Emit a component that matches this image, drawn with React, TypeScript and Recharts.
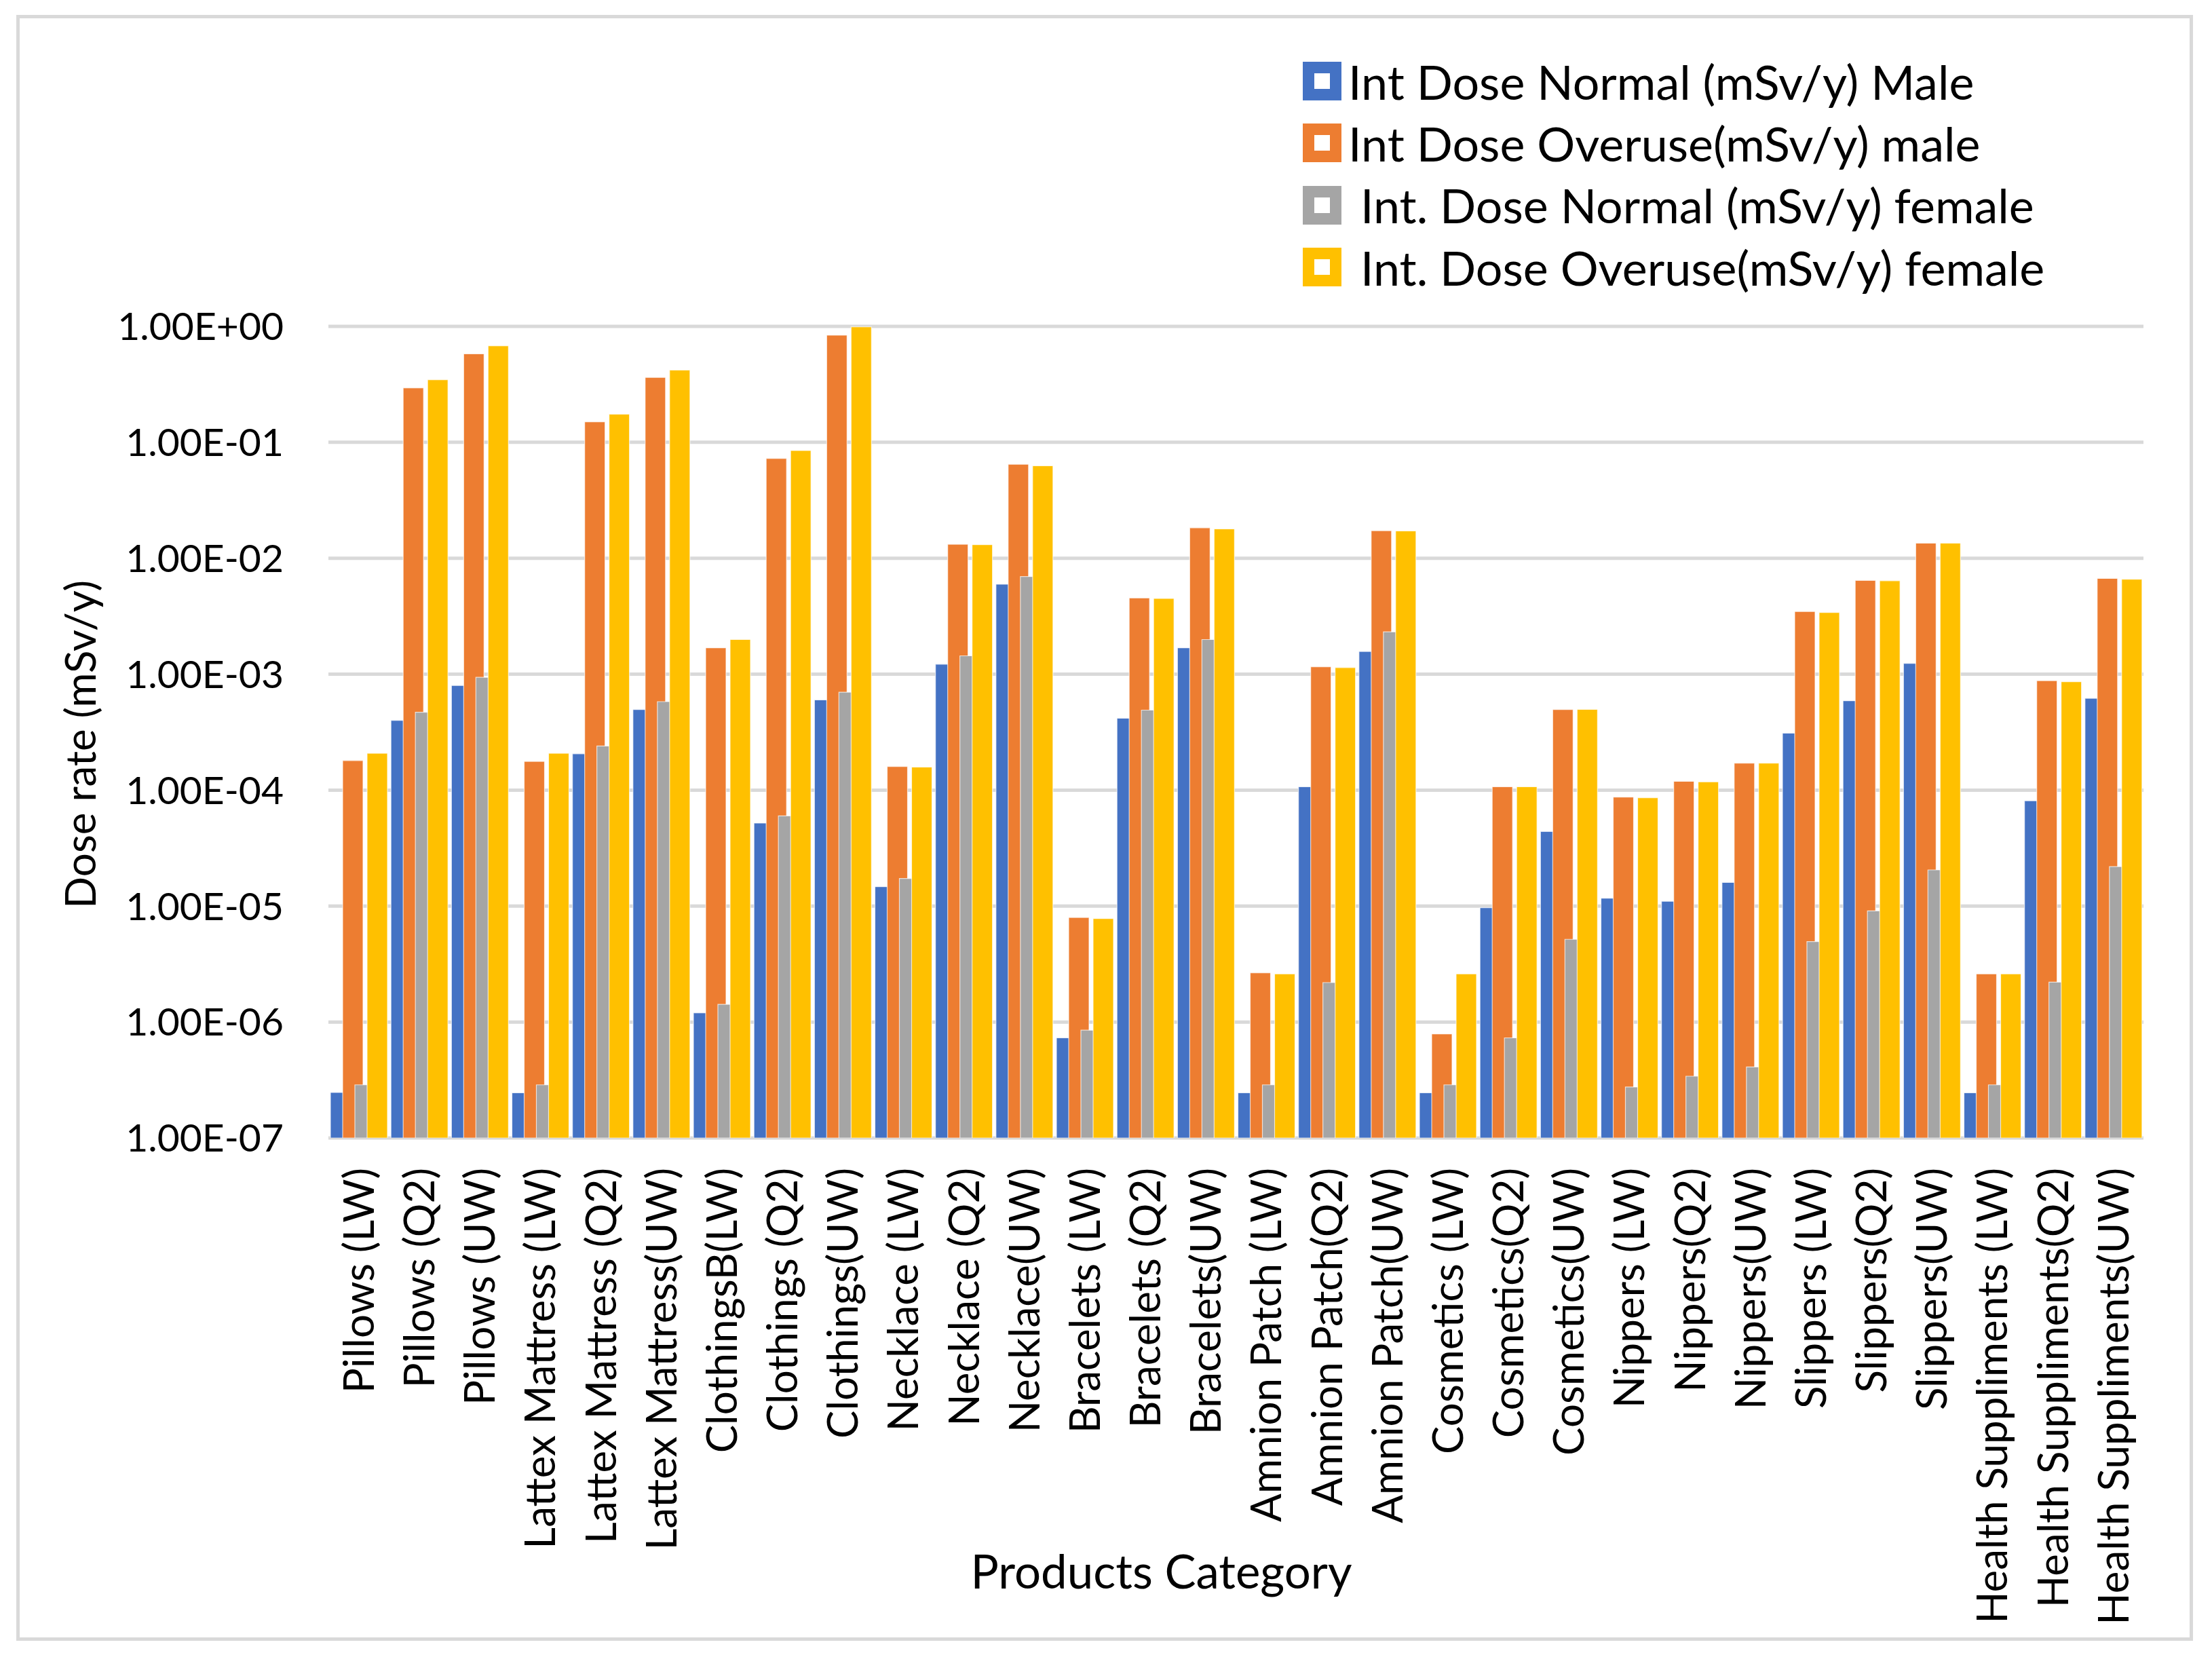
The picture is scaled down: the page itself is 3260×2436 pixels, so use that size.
import React from 'react';
import { BarChart, Bar, XAxis, YAxis, CartesianGrid, Legend } from 'recharts';

const categories = [
  'Pillows (LW)', 'Pillows (Q2)', 'Pillows (UW)',
  'Lattex Mattress (LW)', 'Lattex Mattress (Q2)', 'Lattex Mattress(UW)',
  'ClothingsB(LW)', 'Clothings (Q2)', 'Clothings(UW)',
  'Necklace (LW)', 'Necklace (Q2)', 'Necklace(UW)',
  'Bracelets (LW)', 'Bracelets (Q2)', 'Bracelets(UW)',
  'Amnion Patch (LW)', 'Amnion Patch(Q2)', 'Amnion Patch(UW)',
  'Cosmetics (LW)', 'Cosmetics(Q2)', 'Cosmetics(UW)',
  'Nippers (LW)', 'Nippers(Q2)', 'Nippers(UW)',
  'Slippers (LW)', 'Slippers(Q2)', 'Slippers(UW)',
  'Health Suppliments (LW)', 'Health Suppliments(Q2)', 'Health Suppliments(UW)',
];

const maleNormal = [
  2.47e-7, 4.0e-4, 8.0e-4, 2.45e-7, 2.06e-4, 4.95e-4, 1.2e-6, 5.2e-5, 6.0e-4, 1.47e-5,
  1.22e-3, 5.97e-3, 7.3e-7, 4.17e-4, 1.69e-3, 2.45e-7, 1.07e-4, 1.57e-3, 2.45e-7, 9.7e-6,
  4.4e-5, 1.17e-5, 1.1e-5, 1.6e-5, 3.1e-4, 5.9e-4, 1.24e-3, 2.45e-7, 8.1e-5, 6.2e-4,
];
const maleOveruse = [
  1.8e-4, 0.295, 0.58, 1.77e-4, 0.15, 0.363, 1.69e-3, 0.0726, 0.84, 1.6e-4,
  0.0132, 0.0647, 7.98e-6, 4.55e-3, 0.0183, 2.66e-6, 1.16e-3, 0.0173, 7.9e-7, 1.07e-4,
  4.95e-4, 8.7e-5, 1.19e-4, 1.71e-4, 3.47e-3, 6.44e-3, 0.0135, 2.6e-6, 8.8e-4, 6.7e-3,
];
const femaleNormal = [
  2.87e-7, 4.7e-4, 9.4e-4, 2.87e-7, 2.4e-4, 5.8e-4, 1.42e-6, 6.0e-5, 7.0e-4, 1.73e-5,
  1.44e-3, 6.95e-3, 8.5e-7, 4.9e-4, 1.99e-3, 2.87e-7, 2.19e-6, 2.32e-3, 2.87e-7, 7.3e-7,
  5.17e-6, 2.75e-7, 3.41e-7, 4.1e-7, 4.94e-6, 9.1e-6, 2.05e-5, 2.87e-7, 2.21e-6, 2.19e-5,
];
const femaleOveruse = [
  2.08e-4, 0.347, 0.68, 2.08e-4, 0.175, 0.42, 1.99e-3, 0.085, 0.99, 1.58e-4,
  0.0131, 0.0627, 7.8e-6, 4.5e-3, 0.0179, 2.6e-6, 1.14e-3, 0.0172, 2.6e-6, 1.07e-4,
  4.97e-4, 8.6e-5, 1.18e-4, 1.71e-4, 3.4e-3, 6.4e-3, 0.0135, 2.6e-6, 8.6e-4, 6.6e-3,
];

const seriesNames = [
  'Int Dose Normal (mSv/y) Male',
  'Int Dose Overuse(mSv/y) male',
  ' Int. Dose Normal (mSv/y) female',
  ' Int. Dose Overuse(mSv/y) female',
];
const seriesKeys = ['maleNormal', 'maleOveruse', 'femaleNormal', 'femaleOveruse'];
const colors = ['#4472C4', '#ED7D31', '#A5A5A5', '#FFC000'];
const yTicks = [1e-7, 1e-6, 1e-5, 1e-4, 1e-3, 1e-2, 1e-1, 1];

const data = categories.map((name, i) => ({
  name,
  maleNormal: maleNormal[i],
  maleOveruse: maleOveruse[i],
  femaleNormal: femaleNormal[i],
  femaleOveruse: femaleOveruse[i],
}));

// 1e-3 -> "1.00E-03", like Excel's scientific format
const fmtExp = (v: number) => {
  const [m, e] = v.toExponential(2).split('e');
  const n = parseInt(e, 10);
  return `${m}E${n < 0 ? '-' : '+'}${String(Math.abs(n)).padStart(2, '0')}`;
};

const XTick = (props: any) => {
  const { x, y, payload } = props;
  return (
    <g transform={`translate(${x},${y})`}>
      <text
        x={0}
        y={0}
        dy="0.36em"
        transform="rotate(-90)"
        textAnchor="end"
        fontFamily="Lato"
        fontSize={62}
        fill="#000"
      >
        {payload.value}
      </text>
    </g>
  );
};

const renderLegend = () => (
  <div>
    {seriesNames.map((name, i) => (
      <div key={name} style={{ display: 'flex', alignItems: 'center', height: 91.3 }}>
        <svg width={57} height={57} style={{ flex: 'none' }}>
          <rect x={0} y={0} width={57} height={57} fill={colors[i]} />
          <rect x={17} y={17} width={23} height={23} fill="#fff" />
        </svg>
        <span
          style={{
            marginLeft: 10,
            fontFamily: 'Lato',
            fontSize: 70,
            lineHeight: 1,
            whiteSpace: 'pre',
            color: '#000',
          }}
        >
          {name}
        </span>
      </div>
    ))}
  </div>
);

export default function App() {
  return (
    <div style={{ position: 'absolute', left: 0, top: 0, width: 3260, height: 2436, background: '#fff' }}>
      <div
        style={{
          position: 'absolute',
          left: 24,
          top: 22,
          width: 3208,
          height: 2396,
          boxSizing: 'border-box',
          border: '5px solid #d9d9d9',
          pointerEvents: 'none',
        }}
      />
      <BarChart
        width={3260}
        height={2436}
        data={data}
        margin={{ top: 481, right: 101, bottom: 0, left: 0 }}
        barSize={30}
        barGap={-12}
      >
        <CartesianGrid vertical={false} stroke="#d9d9d9" strokeWidth={5} />
        <XAxis
          dataKey="name"
          height={759}
          interval={0}
          axisLine={false}
          tickLine={false}
          tickSize={0}
          tickMargin={44}
          tick={<XTick />}
          label={{
            content: (p: any) => {
              const vb = p.viewBox;
              return (
                <text
                  x={vb.x + vb.width / 2 - 110}
                  y={vb.y + 664}
                  textAnchor="middle"
                  fontFamily="Lato"
                  fontSize={69}
                  fill="#000"
                >
                  Products Category
                </text>
              );
            },
          }}
        />
        <YAxis
          scale="log"
          domain={[1e-7, 1]}
          allowDataOverflow
          ticks={yTicks}
          interval={0}
          width={484}
          axisLine={false}
          tickLine={false}
          tickSize={0}
          tickMargin={66}
          tickFormatter={fmtExp}
          tick={{ fontFamily: 'Lato', fontSize: 57, fill: '#000' }}
          label={{
            content: (p: any) => {
              const vb = p.viewBox;
              const cx = vb.x + 117;
              const cy = vb.y + vb.height / 2 + 18;
              return (
                <text
                  x={cx}
                  y={cy}
                  transform={`rotate(-90, ${cx}, ${cy})`}
                  textAnchor="middle"
                  dominantBaseline="central"
                  fontFamily="Lato"
                  fontSize={62}
                  fill="#000"
                >
                  Dose rate (mSv/y)
                </text>
              );
            },
          }}
        />
        <Legend
          layout="vertical"
          align="center"
          verticalAlign="middle"
          content={renderLegend}
          wrapperStyle={{ left: 1920, top: 74, width: 1250, height: 'auto' }}
        />
        {seriesKeys.map((key, i) => (
          <Bar
            key={key}
            dataKey={key}
            name={seriesNames[i]}
            fill={colors[i]}
            stroke="#ffffff"
            strokeWidth={1.2}
            strokeOpacity={0.7}
            isAnimationActive={false}
          />
        ))}
      </BarChart>
    </div>
  );
}
